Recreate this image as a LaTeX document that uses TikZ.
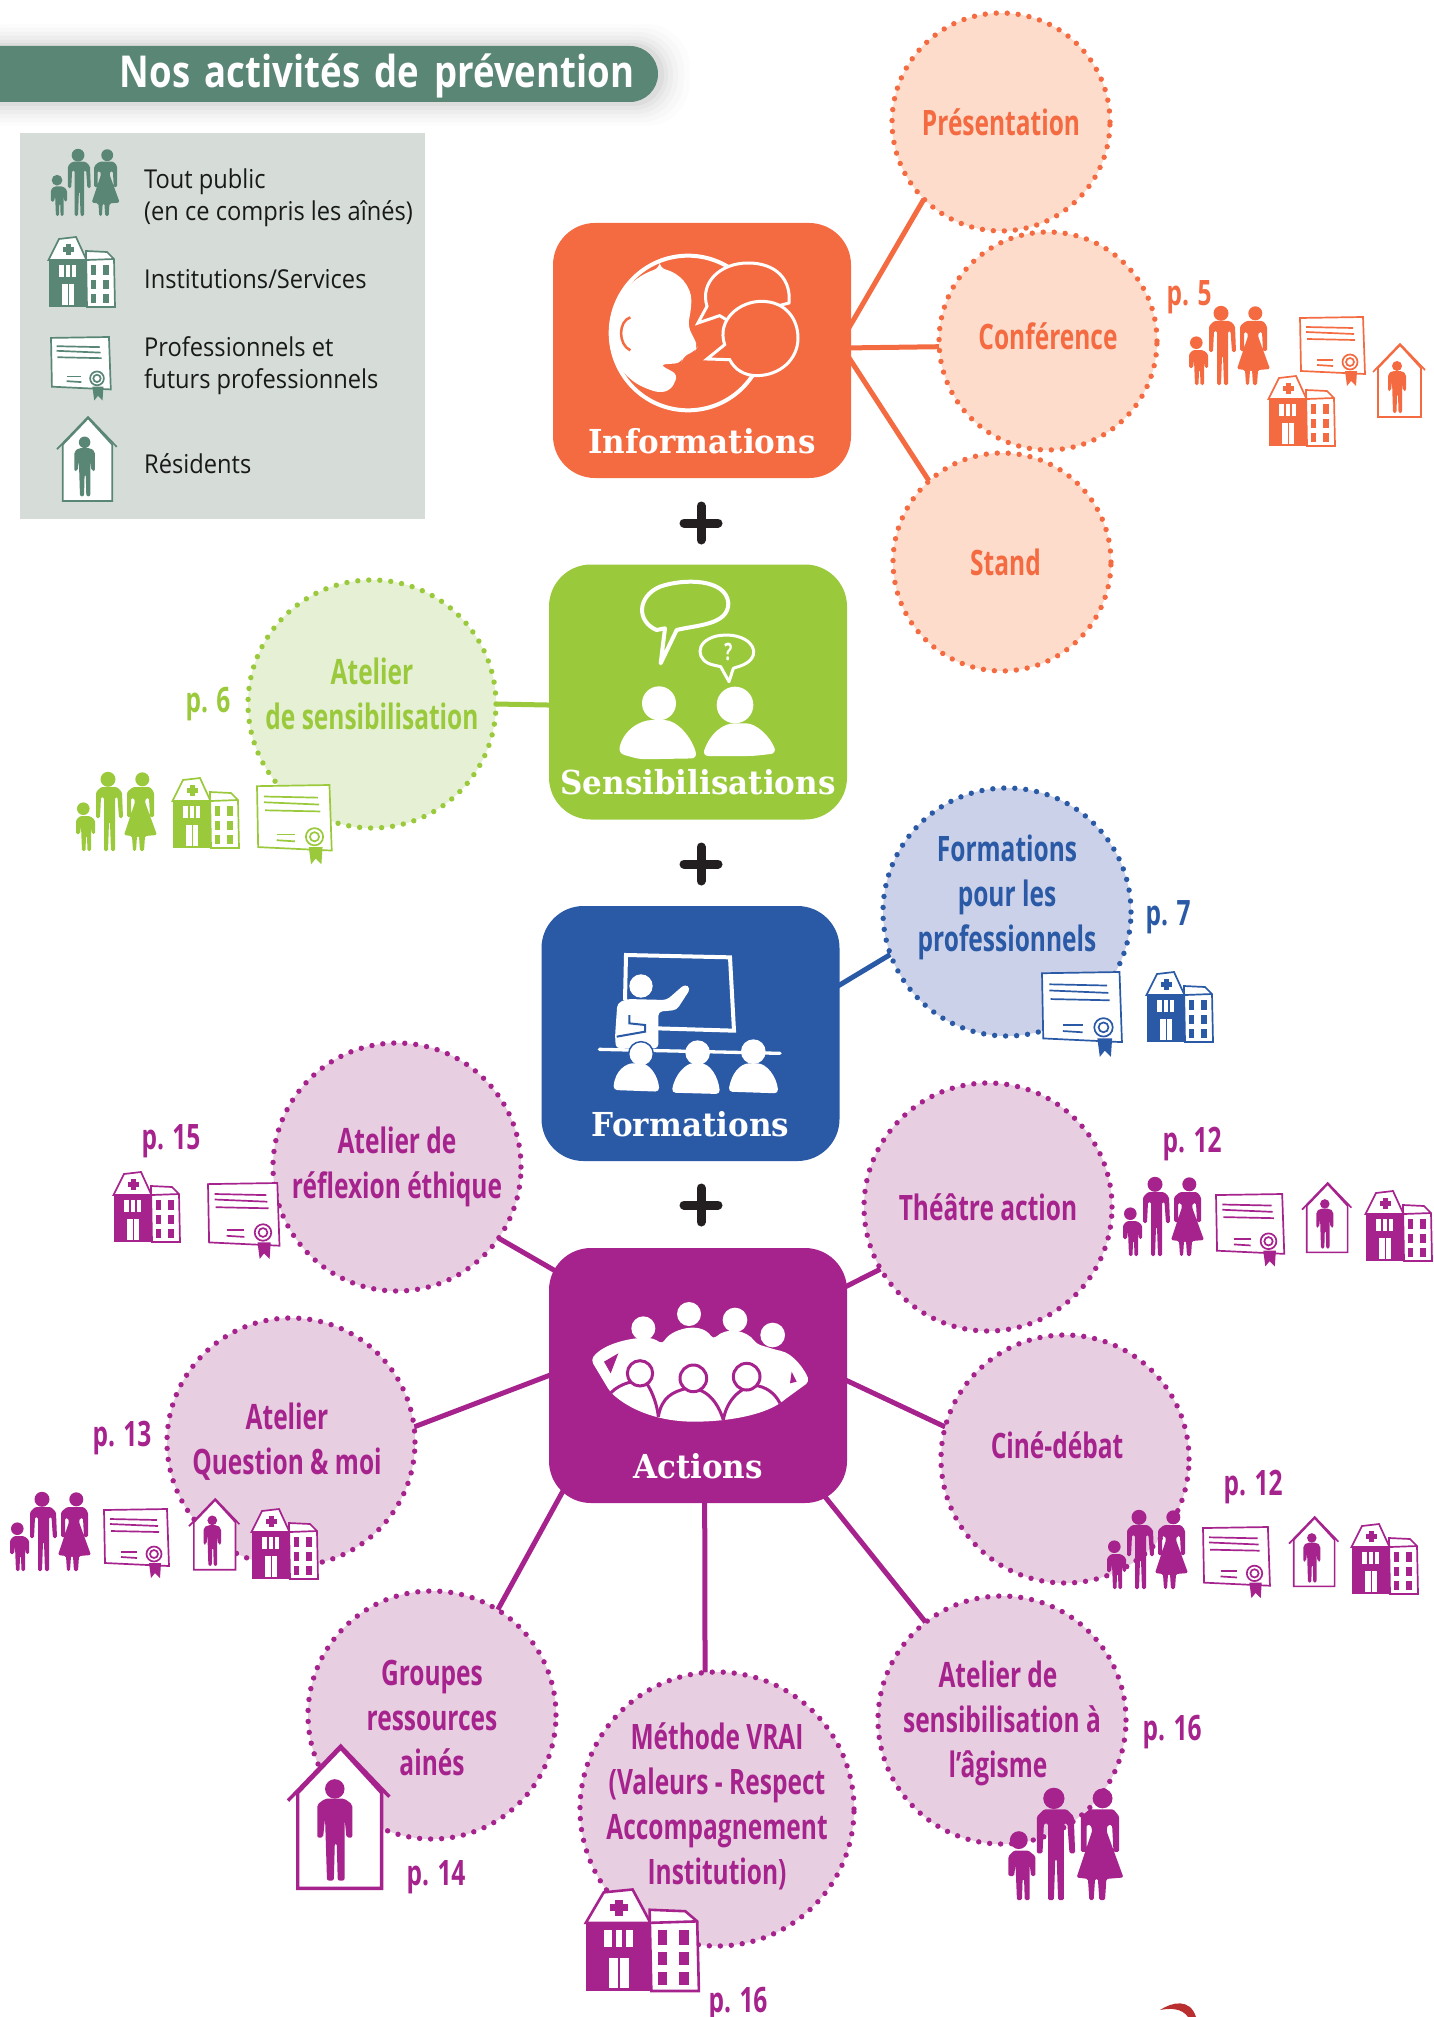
\documentclass[tikz,border=0pt]{standalone}
\usepackage{fontspec}
\usetikzlibrary{backgrounds}
\setmainfont{Open Sans}
\newfontfamily\lblfont[FakeStretch=0.70]{Open Sans Bold}
\newfontfamily\legfont[FakeStretch=0.91]{Open Sans}
\newfontfamily\titlefont[FakeStretch=0.83, WordSpace=0.75]{Open Sans Bold}
\newfontfamily\hubfont[FakeStretch=0.94]{DejaVu Serif Bold}

\definecolor{infocol}{HTML}{F46A41}
\definecolor{infofill}{HTML}{FDDCCB}
\definecolor{senscol}{HTML}{9ACA3C}
\definecolor{sensfill}{HTML}{E5F0D4}
\definecolor{formcol}{HTML}{2A59A6}
\definecolor{formfill}{HTML}{CBD1E8}
\definecolor{actcol}{HTML}{A6238D}
\definecolor{actfill}{HTML}{E7CEE1}
\definecolor{tealcol}{HTML}{5A8676}
\definecolor{legendfill}{HTML}{D6DDD9}
\definecolor{plusblack}{HTML}{231F20}
\definecolor{swooshred}{HTML}{B92E2E}

\tikzset{
    hub/.style={rectangle, rounded corners=42pt, fill=#1, text=white, inner sep=0pt, outer sep=0pt,
        minimum width=298pt, minimum height=255pt, text height=205pt, text depth=0pt,
        font=\fontsize{33}{40}\selectfont\hubfont},
    bubble/.style n args={2}{circle, draw=#1, fill=#2, text=#1, line width=5.4pt, line cap=round,
        dash pattern=on 0pt off 11pt, minimum size=248pt, inner sep=-22pt, outer sep=0pt, align=center,
        font=\fontsize{35}{45}\selectfont\lblfont},
    pagelbl/.style={text=#1, inner sep=0pt, font=\fontsize{35}{45}\selectfont\lblfont},
    legendtxt/.style={anchor=west, inner sep=0pt, align=left, text=black!90,
        font=\fontsize{26}{32}\selectfont\legfont},
    link/.style={line width=5pt, draw=#1, shorten >=-14pt},
    icon/.style={color=#1, line width=1.7pt},
    familyicon/.pic={
        \fill (8.3,36.7) circle (6.3);
        \fill (33,7.3) circle (7.5);
        \fill (67.3,7.3) circle (7);
        \fill[rounded corners=1.5pt] (21,20) -- (26,15) -- (42,15) -- (47,20) -- (48,46) -- (44,46) -- (42.5,25) -- (40,25)
            -- (40,79) -- (36,79) -- (35,50) -- (34,50) -- (33,79) -- (29,79) -- (29,25) -- (26,25) -- (25,46) -- (21,46) -- cycle;
        \fill[rounded corners=1.5pt] (52,20) -- (58,15) -- (75,15) -- (79,20) -- (79,45) -- (75,45) -- (74,26) -- (71,26)
            -- (70,30) -- (82,63) -- (70,64) -- (69,79) -- (65,79) -- (64,64) -- (62,64) -- (61,79) -- (58,79) -- (57,64)
            -- (49,63) -- (60,30) -- (59,26) -- (56,26) -- (56,45) -- (52,45) -- cycle;
        \fill[rounded corners=1.5pt] (1,48) -- (5,44) -- (15,44) -- (20,48) -- (20,62) -- (17,62) -- (16,54)
            -- (16,79) -- (12.5,79) -- (12,64) -- (11,64) -- (10.5,79) -- (7,79) -- (6,54) -- (5,62) -- (1,62) -- cycle;
    },
    hospitalicon/.pic={
        \filldraw[fill=white] (38,15) -- (59,16) -- (66,23) -- (67,71) -- (39,71) -- cycle;
        \draw (39,24) -- (66,23);
        \fill (43,29) rectangle (48,39);
        \fill (55,29) rectangle (61,39);
        \fill (43,44) rectangle (48,53);
        \fill (55,44) rectangle (61,53);
        \fill (43,58) rectangle (48,67);
        \fill (55,58) rectangle (61,67);
        \filldraw[fill=white] (0.5,24) -- (11,3) -- (28,1) -- (38.5,24) -- cycle;
        \fill (17.5,8) rectangle (22.5,19);
        \fill (14.5,11) rectangle (25.5,16);
        \fill (0.5,24) rectangle (39,71);
        \fill[white] (11,29) rectangle (28,41);
        \fill (16,29) rectangle (18,41);
        \fill (22,29) rectangle (24,41);
        \fill[white] (14,48) rectangle (26,69);
        \fill (19.5,48) rectangle (20.5,69);
    },
    diplomaicon/.pic={
        \filldraw[fill=white] (0,1) -- (63,0) -- (65,57) -- (1,54) -- cycle;
        \draw (6,10) -- (53,11);
        \draw (6,15) -- (54,17);
        \draw (7,22) -- (55,23);
        \draw (17,43) -- (33,43);
        \draw (17,48) -- (33,49);
        \fill (45,54) -- (57,54) -- (56,69) -- (51,64) -- (47,69) -- cycle;
        \filldraw[fill=white] (50,45) circle (7.5);
        \draw (50,45) circle (4);
    },
    houseicon/.pic={
        \filldraw[fill=white] (5,24) -- (27,1) -- (48,24) -- (48,73) -- (5,73) -- cycle;
        \draw (0,28) -- (27,0) -- (52,26);
        \fill (24,22) circle (5);
        \fill[rounded corners=2pt] (15,30) -- (19,27) -- (29,27) -- (33,30) -- (33,47) -- (30,47) -- (29,37)
            -- (29,69) -- (25.5,69) -- (25,50) -- (24,50) -- (23.5,69) -- (20,69) -- (19,37) -- (18,47) -- (15,47) -- cycle;
    },
    plusicon/.pic={
        \draw[plusblack, line width=9pt, line cap=round] (-17,0) -- (17,0);
        \draw[plusblack, line width=9pt, line cap=round] (0,-17) -- (0,17);
    }
}

\begin{document}
\begin{tikzpicture}[x=1pt, y=-1pt]
    \useasboundingbox (0,0) rectangle (1433,2017);

    % title and legend
    \fill[black, opacity=0.012, rounded corners=44pt] (-40,24) rectangle (690,126);
    \fill[black, opacity=0.016, rounded corners=42pt] (-40,28) rectangle (684,122);
    \fill[black, opacity=0.02, rounded corners=40pt] (-40,32) rectangle (678,118);
    \fill[black, opacity=0.025, rounded corners=37pt] (-40,36) rectangle (673,114);
    \fill[black, opacity=0.03, rounded corners=34pt] (-40,40) rectangle (668,110);
    \fill[black, opacity=0.04, rounded corners=31pt] (-40,43) rectangle (664,106);
    \node[rectangle, rounded corners=28pt, fill=tealcol, text=white, minimum width=698pt, minimum height=56pt,
        inner sep=0pt, text width=650pt, text height=38pt, align=right, font=\fontsize{44}{50}\selectfont\titlefont] (title) at (309,74) {Nos activités de prévention};
    \node[rectangle, fill=legendfill, minimum width=405pt, minimum height=386pt, inner sep=0pt] (legend) at (222.5,326) {};
    \pic[icon=tealcol, scale=0.85] at (50,149) {familyicon};
    \pic[icon=tealcol] at (48,236) {hospitalicon};
    \pic[icon=tealcol, scale=0.92] at (51,337) {diplomaicon};
    \pic[icon=tealcol, scale=1.15] at (57,417) {houseicon};
    \node[legendtxt] (tout) at (144,198) {Tout public\\(en ce compris les aînés)};
    \node[legendtxt] (inst) at (144,279) {Institutions/Services};
    \node[legendtxt] (prof) at (144,366) {Professionnels et\\futurs professionnels};
    \node[legendtxt] (resi) at (144,464) {Résidents};

    % the four hubs
    \node[hub=infocol] (info) at (702,350.5) {Informations};
    \node[hub=senscol] (sens) at (698,692) {Sensibilisations};
    \node[hub=formcol] (form) at (690.5,1033.5) {Formations};
    \node[hub=actcol] (act) at (698,1375.5) {Actions};

    \pic at (701,523) {plusicon};
    \pic at (701,864) {plusicon};
    \pic at (701,1205) {plusicon};

    % informations
    \node[bubble={infocol}{infofill}, minimum size=218pt] (pres) at (1001,122) {Présentation};
    \node[bubble={infocol}{infofill}, minimum size=218pt, text depth=10pt] (conf) at (1048,341) {Conférence};
    \node[bubble={infocol}{infofill}, minimum size=218pt] (stand) at (1002,562) {\hspace*{7pt}Stand};
    \begin{scope}[on background layer]
        \draw[link=infocol] (pres.225) -- (info.10);
        \draw[link=infocol] (conf.183) -- (info.1);
        \draw[link=infocol] (stand.132) -- (info.-4);
    \end{scope}
    \node[pagelbl=infocol] (p5) at (1189,297) {p. 5};
    \pic[icon=infocol] at (1188,306) {familyicon};
    \pic[icon=infocol] at (1300,317) {diplomaicon};
    \pic[icon=infocol] at (1268,375) {hospitalicon};
    \pic[icon=infocol] at (1373,344) {houseicon};

    % sensibilisations
    \node[bubble={senscol}{sensfill}, text depth=20pt] (atsens) at (372,704) {Atelier\\de sensibilisation};
    \begin{scope}[on background layer]
        \draw[link=senscol] (atsens.0) -- (sens.185);
    \end{scope}
    \node[pagelbl=senscol] (p6) at (208,704) {p. 6};
    \pic[icon=senscol] at (75,772) {familyicon};
    \pic[icon=senscol] at (172,777) {hospitalicon};
    \pic[icon=senscol, scale=1.15] at (257,785) {diplomaicon};

    % formations
    \node[bubble={formcol}{formfill}, text depth=38pt] (fpro) at (1007,912) {Formations\\pour les\\professionnels};
    \begin{scope}[on background layer]
        \draw[link=formcol] (fpro.200) -- (form.18);
    \end{scope}
    \node[pagelbl=formcol] (p7) at (1168,917) {p. 7};
    \pic[icon=formcol, scale=1.23] at (1042,972) {diplomaicon};
    \pic[icon=formcol] at (1146,971) {hospitalicon};

    % actions
    \node[bubble={actcol}{actfill}] (refl) at (397,1167) {Atelier de\\réflexion éthique};
    \node[bubble={actcol}{actfill}] (theatre) at (988,1207) {Théâtre action};
    \node[bubble={actcol}{actfill}] (quest) at (291,1442) {Atelier\hspace*{8pt}\\Question \& moi\hspace*{8pt}};
    \node[bubble={actcol}{actfill}, text depth=28pt] (cine) at (1065,1459) {Ciné-débat\hspace*{16pt}};
    \node[bubble={actcol}{actfill}, text height=121pt] (groupes) at (432,1715) {Groupes\\ressources\\ainés};
    \node[bubble={actcol}{actfill}, minimum size=274pt, text depth=11pt] (vrai) at (717,1809) {Méthode VRAI\\(Valeurs - Respect\\Accompagnement\\Institution)};
    \node[bubble={actcol}{actfill}, text height=124pt] (agisme) at (1002,1720) {Atelier de\hspace*{8pt}\\sensibilisation à\hspace*{8pt}\\l’âgisme\hspace*{8pt}};
    \begin{scope}[on background layer]
        \draw[link=actcol] (refl.-35) -- (act.144);
        \draw[link=actcol] (theatre.210) -- (act.31);
        \draw[link=actcol] (quest.7) -- (act.180);
        \draw[link=actcol] (cine.165) -- (act.-2);
        \draw[link=actcol] (groupes.58) -- (act.222);
        \draw[link=actcol] (vrai.95) -- (act.-87);
        \draw[link=actcol] (agisme.128) -- (act.-44);
    \end{scope}
    \node[pagelbl=actcol] (p15) at (171,1141) {p. 15};
    \node[pagelbl=actcol] (p12a) at (1192,1144) {p. 12};
    \node[pagelbl=actcol] (p13) at (122,1438) {p. 13};
    \node[pagelbl=actcol] (p12b) at (1253,1487) {p. 12};
    \node[pagelbl=actcol] (p14) at (436,1877) {p. 14};
    \node[pagelbl=actcol] (p16a) at (1172,1732) {p. 16};
    \node[pagelbl=actcol] (p16b) at (738,2004) {p. 16};

    \pic[icon=actcol] at (113,1171) {hospitalicon};
    \pic[icon=actcol, scale=1.1] at (208,1183) {diplomaicon};
    \pic[icon=actcol] at (1122,1177) {familyicon};
    \pic[icon=actcol, scale=1.05] at (1216,1194) {diplomaicon};
    \pic[icon=actcol, scale=0.95] at (1302,1183) {houseicon};
    \pic[icon=actcol] at (1365,1190) {hospitalicon};
    \pic[icon=actcol] at (9,1492) {familyicon};
    \pic[icon=actcol] at (104,1509) {diplomaicon};
    \pic[icon=actcol, scale=0.97] at (189,1499) {houseicon};
    \pic[icon=actcol] at (251,1508) {hospitalicon};
    \pic[icon=actcol] at (1106,1510) {familyicon};
    \pic[icon=actcol, scale=1.03] at (1203,1527) {diplomaicon};
    \pic[icon=actcol, scale=0.95] at (1289,1517) {houseicon};
    \pic[icon=actcol] at (1351,1523) {hospitalicon};
    \pic[icon=actcol, scale=1.95, line width=3.4pt] at (288,1746) {houseicon};
    \pic[icon=actcol, xscale=1.7, yscale=1.45, line width=2.6pt] at (585,1888) {hospitalicon};
    \pic[icon=actcol, scale=1.42] at (1007,1788) {familyicon};

    % icon of informations, read off at three times the size
    \begin{scope}[shift={(553,223)}, scale=1/3]
        \draw[white, line width=4pt] (405,330) circle (232);
        \fill[white, rounded corners=6pt] (320,135) .. controls (380,150) and (415,190) .. (415,250) -- (405,310)
            -- (435,370) -- (425,385) -- (390,400) -- (385,420) -- (320,425) -- (375,455) -- (355,500) -- (320,510)
            -- (275,495) .. controls (210,460) and (170,400) .. (170,330) .. controls (170,240) and (230,165) .. (320,135) -- cycle;
        \draw[infocol, line width=2.5pt] (232,283) .. controls (195,295) and (195,365) .. (232,382);
        \draw[white, fill=infocol, line width=3pt] (462,250) .. controls (440,180) and (500,120) .. (585,120)
            .. controls (670,120) and (715,170) .. (708,240) -- (520,290) -- (500,278) -- (435,300) -- cycle;
        \draw[white, fill=infocol, line width=3pt] (515,365) .. controls (490,290) and (560,235) .. (625,235)
            .. controls (700,235) and (735,290) .. (735,345) .. controls (735,410) and (680,458) .. (610,458)
            .. controls (575,458) and (545,440) .. (530,410) -- (462,408) -- cycle;
    \end{scope}

    % icon of sensibilisations
    \begin{scope}[shift={(540,550)}, scale=1/3]
        \draw[white, line width=4pt, line join=round] (350,240) .. controls (290,215) and (290,140) .. (360,110)
            .. controls (430,85) and (560,85) .. (565,160) .. controls (565,225) and (470,225) .. (410,240)
            -- (362,340) -- (375,235) -- cycle;
        \draw[white, line width=3pt, line join=round] (520,345) .. controls (470,335) and (460,275) .. (530,258)
            .. controls (600,245) and (650,280) .. (640,315) .. controls (630,345) and (590,350) .. (580,355)
            -- (567,395) -- (542,350) -- cycle;
        \node[white, inner sep=0pt, font=\fontsize{24}{26}\selectfont\lblfont] (ask) at (565,305) {?};
        \fill[white] (357,460) circle (51);
        \fill[white] (585,465) circle (55);
        \fill[white, rounded corners=6pt] (235,610) .. controls (250,540) and (300,510) .. (355,510)
            .. controls (410,510) and (455,560) .. (472,625) -- (300,628) -- cycle;
        \fill[white, rounded corners=6pt] (487,618) .. controls (510,550) and (550,520) .. (600,520)
            .. controls (650,520) and (690,560) .. (710,610) -- (640,618) -- cycle;
    \end{scope}

    % icon of formations
    \begin{scope}[shift={(530,900)}, scale=1/3]
        \draw[white, line width=4pt] (285,300) -- (288,165) -- (600,172) -- (612,392) -- (380,385);
        \fill[white] (333,258) circle (35);
        \fill[white, rounded corners=4pt] (255,410) -- (262,310) -- (290,297) -- (410,300) -- (465,252) -- (482,265)
            -- (440,330) -- (385,335) -- (385,445) -- (258,445) -- cycle;
        \draw[formcol, line width=2pt] (298,345) -- (298,370) -- (345,375) -- (345,395) -- (260,410);
        \draw[white, line width=3.3pt, line cap=round] (208,448) -- (750,460);
        \filldraw[white, draw=formcol, line width=1.5pt] (333,462) circle (37);
        \fill[white] (503,458) circle (37);
        \fill[white] (670,455) circle (37);
        \fill[white, rounded corners=4pt] (250,570) .. controls (255,510) and (290,490) .. (320,490)
            .. controls (360,490) and (385,530) .. (388,575) -- cycle;
        \fill[white, rounded corners=4pt] (425,578) .. controls (435,520) and (470,490) .. (500,490)
            .. controls (540,490) and (565,530) .. (570,582) -- cycle;
        \fill[white, rounded corners=4pt] (595,575) .. controls (605,520) and (630,490) .. (670,490)
            .. controls (710,490) and (740,530) .. (745,580) -- cycle;
    \end{scope}

    % icon of actions
    \begin{scope}[shift={(530,1240)}, scale=1/3]
        \fill[white] (340,265) circle (36);
        \fill[white] (477,222) circle (36);
        \fill[white] (615,240) circle (37);
        \fill[white] (728,285) circle (37);
        \fill[white, rounded corners=4pt] (183,360) .. controls (220,310) and (310,290) .. (370,295) -- (398,312)
            .. controls (420,270) and (510,240) .. (550,298) .. controls (590,260) and (650,270) .. (680,312)
            -- (740,330) .. controls (790,340) and (825,390) .. (838,425) -- (765,478) -- (750,490)
            .. controls (680,530) and (580,545) .. (480,545) .. controls (380,540) and (300,510) .. (240,455) -- cycle;
        \fill[actcol] (265,340) -- (222,365) -- (242,400) -- cycle;
        \fill[actcol] (785,395) -- (780,430) -- (800,425) -- cycle;
        \draw[actcol, line width=3pt] (243,458) .. controls (270,430) and (320,415) .. (350,430)
            .. controls (370,460) and (382,500) .. (385,530);
        \draw[actcol, line width=3pt] (385,530) .. controls (395,470) and (430,455) .. (470,445)
            .. controls (530,440) and (565,490) .. (580,540);
        \draw[actcol, line width=3pt] (580,540) .. controls (590,480) and (630,445) .. (670,435)
            .. controls (710,440) and (735,460) .. (750,490);
        \filldraw[white, draw=actcol, line width=3pt] (330,400) circle (38);
        \filldraw[white, draw=actcol, line width=3pt] (490,415) circle (40);
        \filldraw[white, draw=actcol, line width=3pt] (650,410) circle (40);
    \end{scope}

    \fill[swooshred] (1160,2010) .. controls (1172,2002) and (1190,1998) .. (1196,2017) -- (1188,2017) .. controls (1182,2008) and (1170,2008) .. (1160,2010) -- cycle;
\end{tikzpicture}
\end{document}
